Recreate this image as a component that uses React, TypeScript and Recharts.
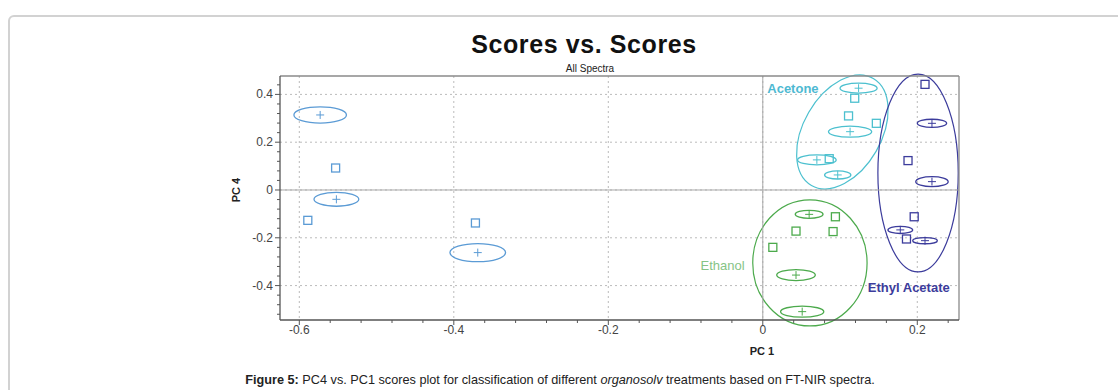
import React from 'react';
import {
  ScatterChart, Scatter, XAxis, YAxis, CartesianGrid, ReferenceLine, ReferenceArea, ReferenceDot,
} from 'recharts';

// ---- data ----
const otherSamples = [
  { pc1: -0.553, pc4: 0.092 },
  { pc1: -0.589, pc4: -0.127 },
  { pc1: -0.372, pc4: -0.138 },
];
const otherMeans = [
  { pc1: -0.573, pc4: 0.314, sd1: 0.034, sd4: 0.034 },
  { pc1: -0.552, pc4: -0.039, sd1: 0.029, sd4: 0.029 },
  { pc1: -0.369, pc4: -0.262, sd1: 0.036, sd4: 0.038 },
];

const acetoneSamples = [
  { pc1: 0.119, pc4: 0.384 },
  { pc1: 0.111, pc4: 0.31 },
  { pc1: 0.147, pc4: 0.279 },
  { pc1: 0.086, pc4: 0.131 },
];
const acetoneMeans = [
  { pc1: 0.124, pc4: 0.426, sd1: 0.024, sd4: 0.021 },
  { pc1: 0.113, pc4: 0.244, sd1: 0.028, sd4: 0.023 },
  { pc1: 0.07, pc4: 0.126, sd1: 0.025, sd4: 0.021 },
  { pc1: 0.097, pc4: 0.063, sd1: 0.017, sd4: 0.017 },
];

const ethylSamples = [
  { pc1: 0.21, pc4: 0.442 },
  { pc1: 0.188, pc4: 0.123 },
  { pc1: 0.196, pc4: -0.112 },
  { pc1: 0.186, pc4: -0.205 },
];
const ethylMeans = [
  { pc1: 0.219, pc4: 0.279, sd1: 0.019, sd4: 0.017 },
  { pc1: 0.219, pc4: 0.035, sd1: 0.021, sd4: 0.021 },
  { pc1: 0.178, pc4: -0.167, sd1: 0.016, sd4: 0.015 },
  { pc1: 0.21, pc4: -0.212, sd1: 0.016, sd4: 0.013 },
];

const ethanolSamples = [
  { pc1: 0.094, pc4: -0.112 },
  { pc1: 0.043, pc4: -0.172 },
  { pc1: 0.091, pc4: -0.174 },
  { pc1: 0.013, pc4: -0.24 },
];
const ethanolMeans = [
  { pc1: 0.06, pc4: -0.102, sd1: 0.018, sd4: 0.017 },
  { pc1: 0.043, pc4: -0.356, sd1: 0.025, sd4: 0.023 },
  { pc1: 0.051, pc4: -0.509, sd1: 0.028, sd4: 0.023 },
];

// group regions: centre, semi-axes (PC1 units, PC4 units), tilt in degrees
const groupRegions = [
  { name: 'Acetone', pc1: 0.103, pc4: 0.243, r1: 0.08, r4: 0.163, tilt: -60 },
  { name: 'Ethyl Acetate', pc1: 0.201, pc4: 0.071, r1: 0.052, r4: 0.414, tilt: 0 },
  { name: 'Ethanol', pc1: 0.061, pc4: -0.305, r1: 0.074, r4: 0.264, tilt: 0 },
];
const groupLabels = [
  { name: 'Acetone', pc1: 0.039, pc4: 0.423 },
  { name: 'Ethanol', pc1: -0.052, pc4: -0.314 },
  { name: 'Ethyl Acetate', pc1: 0.189, pc4: -0.406 },
];

const xDomain = [-0.625, 0.254];
const yDomain = [-0.544, 0.477];
const xMajorTicks = [-0.6, -0.4, -0.2, 0, 0.2];
const yMajorTicks = [-0.4, -0.2, 0, 0.2, 0.4];
const xAllTicks = [-0.6, -0.56, -0.52, -0.48, -0.44, -0.4, -0.36, -0.32, -0.28, -0.24, -0.2, -0.16, -0.12, -0.08, -0.04, 0, 0.04, 0.08, 0.12, 0.16, 0.2, 0.24];
const yAllTicks = [-0.52, -0.48, -0.44, -0.4, -0.36, -0.32, -0.28, -0.24, -0.2, -0.16, -0.12, -0.08, -0.04, 0, 0.04, 0.08, 0.12, 0.16, 0.2, 0.24, 0.28, 0.32, 0.36, 0.4, 0.44];

// ---- styles ----
const COLORS: Record<string, string> = {
  other: '#5b9bd5',
  Acetone: '#4cc0cf',
  'Ethyl Acetate': '#3c3c9c',
  Ethanol: '#4caa4c',
};
const LABEL_COLORS: Record<string, string> = {
  Acetone: '#4db9d2',
  'Ethyl Acetate': '#3c3c9c',
  Ethanol: '#86c486',
};
const FONT = '"Liberation Sans", Arial, sans-serif';
const AXIS_COLOR = '#555';

const isMajor = (v: number) => Math.abs(v * 5 - Math.round(v * 5)) < 1e-6;

const XTick = (props: any) => {
  const { x, y, payload } = props;
  const v = payload.value;
  const major = isMajor(v);
  return (
    <g>
      <line x1={x} x2={x} y1={y} y2={y + (major ? 5 : 3)} stroke={AXIS_COLOR} strokeWidth={1} />
      {major && (
        <text x={x} y={y + 14} textAnchor="middle" fontSize={12} fill="#444" fontFamily={FONT}>
          {String(v)}
        </text>
      )}
    </g>
  );
};

const YTick = (props: any) => {
  const { x, y, payload } = props;
  const v = payload.value;
  const major = isMajor(v);
  return (
    <g>
      <line x1={x} x2={x - (major ? 5 : 3)} y1={y} y2={y} stroke={AXIS_COLOR} strokeWidth={1} />
      {major && (
        <text x={x - 7} y={y + 4} textAnchor="end" fontSize={12} fill="#444" fontFamily={FONT}>
          {String(v)}
        </text>
      )}
    </g>
  );
};

const squareShape = (color: string) => (p: any) => (
  <rect x={p.cx - 4} y={p.cy - 4} width={8} height={8} fill="none" stroke={color} strokeWidth={1.3} />
);
const crossShape = (color: string) => (p: any) => (
  <g stroke={color} strokeWidth={1}>
    <line x1={p.cx - 4} x2={p.cx + 4} y1={p.cy} y2={p.cy} />
    <line x1={p.cx} x2={p.cx} y1={p.cy - 4} y2={p.cy + 4} />
  </g>
);
const ellipseShape = (color: string, tilt: number, width: number) => (p: any) => {
  const w = Math.abs(p.width);
  const h = Math.abs(p.height);
  const left = Math.min(p.x, p.x + p.width);
  const top = Math.min(p.y, p.y + p.height);
  const cx = left + w / 2;
  const cy = top + h / 2;
  return (
    <ellipse
      cx={cx}
      cy={cy}
      rx={w / 2}
      ry={h / 2}
      fill="none"
      stroke={color}
      strokeWidth={width}
      transform={`rotate(${tilt} ${cx} ${cy})`}
    />
  );
};
const textShape = (name: string) => (p: any) => (
  <text
    x={p.cx}
    y={p.cy + 4.5}
    textAnchor="middle"
    fontSize={13}
    fontWeight={name === 'Ethanol' ? 400 : 700}
    fill={LABEL_COLORS[name]}
    fontFamily={FONT}
  >
    {name}
  </text>
);

const meanSets = [
  { key: 'other', data: otherMeans },
  { key: 'Acetone', data: acetoneMeans },
  { key: 'Ethyl Acetate', data: ethylMeans },
  { key: 'Ethanol', data: ethanolMeans },
];
const sampleSets = [
  { key: 'other', data: otherSamples },
  { key: 'Acetone', data: acetoneSamples },
  { key: 'Ethyl Acetate', data: ethylSamples },
  { key: 'Ethanol', data: ethanolSamples },
];

export default function App() {
  return (
    <div
      style={{
        position: 'absolute',
        left: 0,
        top: 0,
        width: 1118,
        height: 390,
        overflow: 'hidden',
        background: '#fff',
        fontFamily: FONT,
      }}
    >
      <div
        style={{
          position: 'absolute',
          left: 8,
          top: 15,
          width: 1140,
          height: 420,
          border: '2px solid #d2d2d2',
          borderRadius: 6,
          boxSizing: 'border-box',
        }}
      />
      <div style={{ position: 'absolute', left: 0, top: 0 }}>
        <ScatterChart width={1118} height={390} margin={{ top: 76, right: 159, bottom: 40, left: 220 }}>
          <CartesianGrid
            stroke="#bbb"
            strokeDasharray="2 3"
            verticalValues={xMajorTicks}
            horizontalValues={yMajorTicks}
          />
          <XAxis
            type="number"
            dataKey="pc1"
            domain={xDomain}
            ticks={xAllTicks}
            interval={0}
            allowDataOverflow
            height={30}
            tickSize={0}
            tickMargin={0}
            tickLine={false}
            tick={<XTick />}
            axisLine={{ stroke: AXIS_COLOR, strokeWidth: 1.3 }}
          />
          <YAxis
            type="number"
            dataKey="pc4"
            domain={yDomain}
            ticks={yAllTicks}
            interval={0}
            allowDataOverflow
            width={60}
            tickSize={0}
            tickMargin={0}
            tickLine={false}
            tick={<YTick />}
            axisLine={{ stroke: AXIS_COLOR, strokeWidth: 1.3 }}
          />
          <ReferenceLine x={0} stroke="#a8a8a8" strokeWidth={1} />
          <ReferenceLine y={0} stroke="#a8a8a8" strokeWidth={1} />
          <ReferenceLine y={yDomain[1]} stroke="#8a8a8a" strokeWidth={1.3} />
          <ReferenceLine x={xDomain[1]} stroke="#8a8a8a" strokeWidth={1.3} />

          {groupRegions.map((g) => (
            <ReferenceArea
              key={'region-' + g.name}
              x1={g.pc1 - g.r1}
              x2={g.pc1 + g.r1}
              y1={g.pc4 - g.r4}
              y2={g.pc4 + g.r4}
              ifOverflow="visible"
              shape={ellipseShape(COLORS[g.name], g.tilt, 1.2)}
            />
          ))}
          {meanSets.map((s) =>
            s.data.map((m, i) => (
              <ReferenceArea
                key={'sd-' + s.key + i}
                x1={m.pc1 - m.sd1}
                x2={m.pc1 + m.sd1}
                y1={m.pc4 - m.sd4}
                y2={m.pc4 + m.sd4}
                ifOverflow="visible"
                shape={ellipseShape(COLORS[s.key], 0, 1.3)}
              />
            ))
          )}
          {sampleSets.map((s) => (
            <Scatter
              key={'samples-' + s.key}
              data={s.data}
              shape={squareShape(COLORS[s.key])}
              isAnimationActive={false}
            />
          ))}
          {meanSets.map((s) => (
            <Scatter
              key={'means-' + s.key}
              data={s.data}
              shape={crossShape(COLORS[s.key])}
              isAnimationActive={false}
            />
          ))}
          {groupLabels.map((l) => (
            <ReferenceDot
              key={'label-' + l.name}
              x={l.pc1}
              y={l.pc4}
              ifOverflow="visible"
              shape={textShape(l.name)}
            />
          ))}
        </ScatterChart>
      </div>

      <div
        style={{
          position: 'absolute',
          left: 584,
          top: 44,
          transform: 'translate(-50%, -50%)',
          fontSize: 25,
          fontWeight: 700,
          letterSpacing: 0.6,
          color: '#111',
          whiteSpace: 'nowrap',
        }}
      >
        Scores vs. Scores
      </div>
      <div
        style={{
          position: 'absolute',
          left: 590,
          top: 68,
          transform: 'translate(-50%, -50%)',
          fontSize: 10,
          color: '#222',
          whiteSpace: 'nowrap',
        }}
      >
        All Spectra
      </div>
      <div
        style={{
          position: 'absolute',
          left: 236,
          top: 190,
          transform: 'translate(-50%, -50%) rotate(-90deg)',
          fontSize: 11,
          fontWeight: 700,
          color: '#222',
          whiteSpace: 'nowrap',
        }}
      >
        PC 4
      </div>
      <div
        style={{
          position: 'absolute',
          left: 762,
          top: 351,
          transform: 'translate(-50%, -50%)',
          fontSize: 11,
          fontWeight: 700,
          color: '#222',
          whiteSpace: 'nowrap',
        }}
      >
        PC 1
      </div>
      <div
        style={{
          position: 'absolute',
          left: 560,
          top: 380,
          transform: 'translate(-50%, -50%)',
          fontSize: 12.7,
          color: '#222',
          whiteSpace: 'nowrap',
        }}
      >
        <b>Figure 5:</b> PC4 vs. PC1 scores plot for classification of different <i>organosolv</i> treatments based on
        FT-NIR spectra.
      </div>
    </div>
  );
}
